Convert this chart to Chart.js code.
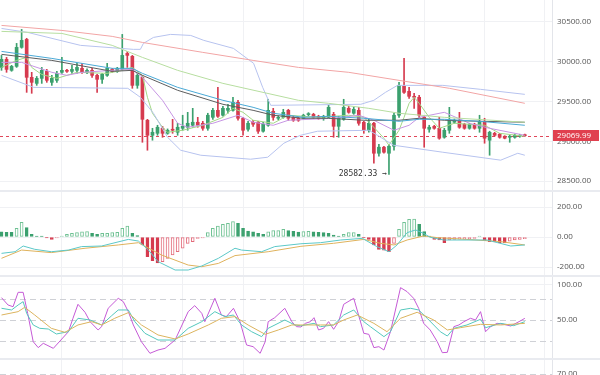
<!DOCTYPE html>
<html>
<head>
<meta charset="utf-8">
<script src="https://cdn.jsdelivr.net/npm/chart.js@4.4.0/dist/chart.umd.min.js"></script>
<style>
  html, body { margin: 0; padding: 0; background: #fff; overflow: hidden; }
  body { width: 600px; height: 375px; position: relative; }
  canvas { position: absolute; left: 0; }
  .sep { position: absolute; left: 0; width: 600px; height: 2px; background: #e9ebf0; }
</style>
</head>
<body>
<canvas id="mainChart" width="600" height="190" style="top:0"></canvas>
<div class="sep" style="top:190px"></div>
<canvas id="macdChart" width="600" height="83" style="top:192px"></canvas>
<div class="sep" style="top:275px"></div>
<canvas id="kdjChart" width="600" height="81" style="top:277px"></canvas>
<div class="sep" style="top:358px"></div>
<canvas id="rsiChart" width="600" height="50" style="top:360px"></canvas>
<script>
// candles, one per period (index 0..104)
const candleOpen = [29929, 30030, 29892, 29942, 30181, 30281, 29804, 29728, 29791, 29879,
  29741, 29766, 29867, 29885, 29879, 29892, 29917, 29867, 29892, 29829,
  29779, 29829, 29904, 29879, 29904, 30105, 30068, 29703, 29804, 29264,
  29075, 29100, 29163, 29100, 29151, 29113, 29163, 29176, 29201, 29239,
  29226, 29163, 29301, 29389, 29327, 29389, 29389, 29490, 29289, 29151,
  29239, 29239, 29126, 29201, 29377, 29289, 29301, 29389, 29301, 29289,
  29289, 29335, 29339, 29314, 29289, 29301, 29339, 29188, 29276, 29414,
  29352, 29389, 29239, 29138, 29226, 28849, 28925, 28849, 28937, 29327,
  29691, 29628, 29565, 29553, 29301, 29151, 29188, 29163, 29050, 29138,
  29239, 29264, 29214, 29163, 29214, 29163, 29251, 29013, 29100, 29088,
  29063, 29050, 29050, 29063, 29080];
const candleHigh = [30080, 30055, 29955, 30231, 30407, 30295, 29867, 29815, 29929, 29904,
  29829, 29879, 30055, 29905, 29955, 29980, 29980, 29910, 29917, 29842,
  29854, 29980, 29917, 29930, 30344, 30130, 30080, 29854, 29829, 29276,
  29163, 29201, 29188, 29155, 29276, 29226, 29327, 29364, 29414, 29301,
  29251, 29352, 29414, 29678, 29440, 29465, 29553, 29515, 29301, 29251,
  29264, 29251, 29239, 29528, 29414, 29320, 29402, 29402, 29314, 29301,
  29340, 29360, 29352, 29327, 29327, 29452, 29364, 29314, 29528, 29440,
  29427, 29427, 29251, 29276, 29239, 28962, 28937, 28962, 29352, 29741,
  30042, 29678, 29603, 29578, 29314, 29201, 29201, 29301, 29163, 29427,
  29280, 29364, 29226, 29226, 29226, 29327, 29289, 29126, 29113, 29100,
  29070, 29075, 29090, 29088, 29090];
const candleLow = [29892, 29867, 29880, 29929, 30170, 29615, 29603, 29703, 29728, 29741,
  29703, 29741, 29854, 29865, 29854, 29854, 29854, 29850, 29804, 29615,
  29728, 29816, 29866, 29866, 29892, 29929, 29666, 29666, 28987, 28887,
  29013, 29075, 29050, 29088, 29100, 29075, 29138, 29138, 29176, 29176,
  29138, 29138, 29276, 29301, 29314, 29352, 29377, 29264, 29075, 29126,
  29188, 29100, 29113, 29188, 29264, 29270, 29289, 29264, 29250, 29250,
  29276, 29320, 29289, 29276, 29264, 29289, 29050, 29050, 29264, 29352,
  29339, 29201, 29100, 29113, 28724, 28811, 28849, 28582.33, 28887, 29301,
  29603, 29540, 29414, 29301, 28925, 29113, 29151, 29025, 29038, 29100,
  29226, 29163, 29151, 29151, 29151, 29113, 28975, 28824, 29063, 29038,
  29030, 28987, 29038, 29050, 29060];
const candleClose = [30030, 29904, 29942, 30181, 30269, 29804, 29741, 29791, 29892, 29766,
  29791, 29854, 29892, 29880, 29904, 29929, 29867, 29892, 29829, 29779,
  29842, 29917, 29879, 29917, 30080, 30080, 29703, 29829, 29276, 29075,
  29113, 29176, 29100, 29138, 29138, 29176, 29188, 29226, 29239, 29201,
  29163, 29327, 29389, 29314, 29414, 29414, 29490, 29289, 29138, 29226,
  29214, 29126, 29214, 29389, 29301, 29301, 29364, 29289, 29264, 29264,
  29327, 29342, 29301, 29289, 29314, 29427, 29188, 29289, 29427, 29364,
  29402, 29226, 29138, 29226, 28849, 28925, 28862, 28937, 29327, 29703,
  29615, 29565, 29553, 29327, 29163, 29176, 29163, 29038, 29138, 29264,
  29264, 29176, 29163, 29214, 29163, 29251, 29038, 29113, 29075, 29050,
  29038, 29063, 29075, 29075, 29069.99];

// overlay lines, sampled at candle index positions
const ma120X = [0, 12, 22, 28, 40, 50, 59, 69, 79, 89, 104];
const ma120 = [30457, 30394, 30319, 30243, 30118, 30017, 29929, 29867, 29766, 29666, 29477];
const ma60X = [0, 12, 22, 28, 35, 44, 59, 65, 73, 79, 88, 104];
const ma60 = [30382, 30356, 30206, 30055, 29892, 29728, 29515, 29477, 29414, 29352, 29301, 29239];
const ma30X = [0, 10, 22, 26, 28, 35, 44, 50, 54, 60, 65, 72, 79, 83, 88, 95, 104];
const ma30 = [30130, 30042, 29917, 29917, 29854, 29678, 29515, 29427, 29352, 29301, 29314, 29289, 29251, 29276, 29276, 29251, 29201];
const bollMid = [30093, 30017, 29879, 29892, 29829, 29641, 29465, 29389, 29327, 29289, 29289, 29264, 29264, 29289, 29264, 29251, 29239];
const bollUpX = [0, 5.2, 15.7, 26.2, 27.6, 28.2, 30.2, 33.6, 37.6, 40.2, 46.1, 50.1, 51.9, 53.5, 71.4, 74, 76.3, 78.7, 87.7, 95.2, 104];
const bollUp = [30419, 30369, 30206, 30156, 30156, 30231, 30306, 30344, 30331, 30269, 30168, 29980, 29678, 29452, 29465, 29515, 29615, 29703, 29703, 29653, 29590];
const bollDnX = [0, 6.4, 25.1, 27.6, 30.2, 33, 35.6, 39.6, 49.5, 52.9, 56.1, 59.4, 62.8, 73, 74.7, 77.9, 87.7, 99.2, 102.6, 104];
const bollDn = [29829, 29678, 29666, 29553, 29352, 29050, 28887, 28824, 28774, 28799, 28975, 29075, 29126, 29138, 29075, 28950, 28862, 28762, 28849, 28824];
const ma10X = [0, 4, 10, 13, 16, 22, 26, 28, 32, 35, 37, 42, 47, 50, 54, 57, 66, 71, 74, 78, 81, 83, 88, 93, 97, 104];
const ma10 = [29992, 29992, 29867, 29829, 29867, 29892, 29904, 29804, 29515, 29226, 29176, 29226, 29327, 29239, 29201, 29264, 29289, 29327, 29264, 29138, 29201, 29301, 29364, 29226, 29163, 29075];
const ma5X = [0, 3, 5, 6, 8, 11, 15, 21, 24, 26, 28, 29, 30, 32, 33, 36, 40, 44, 46, 48,
  50, 54, 57, 63, 69, 72, 74, 76, 77, 79, 80, 81, 82, 83, 85, 87, 90, 96, 99, 104];
const ma5 = [29929, 30017, 30055, 29929, 29840, 29791, 29867, 29854, 29892, 29929, 29829, 29553, 29352, 29176, 29113, 29138, 29201, 29301, 29414, 29364,
  29264, 29226, 29327, 29301, 29327, 29301, 29176, 29038, 28950, 29138, 29301, 29477, 29553, 29477, 29301, 29163, 29226, 29201, 29100, 29063];

// MACD
const macdHist = [35, 31, 31, 58, 98, 62, 18, 2, 2, -4,
  -16, -2, 2, 18, 24, 29, 35, 36, 24, 18,
  24, 25, 29, 31, 58, 73, 24, 9, -53, -131,
  -158, -172, -165, -142, -120, -98, -75, -42, -31, -10,
  -2, 29, 58, 73, 84, 91, 102, 91, 58, 40,
  35, 24, 18, 35, 42, 43, 51, 42, 38, 33,
  36, 37, 35, 31, 29, 24, 13, 2, 18, 29,
  30, 18, -4, -16, -53, -82, -87, -98, -42, 51,
  98, 118, 120, 84, 36, 5, -16, -20, -38, -20,
  -16, -15, -14, -12, -10, 3, -24, -31, -33, -38,
  -40, -27, -20, -16, -11];
const difX = [0, 2.7, 4.3, 6.6, 9.9, 13.3, 15.9, 19.9, 25.2, 27.2, 29.2, 31.1, 34.5, 37.1, 39.8, 43.1, 46.4, 47.7, 51.7, 54.3,
  59.5, 63.4, 67.4, 71.7, 74.6, 77, 78.6, 80.6, 82.3, 83.9, 85.2, 87.9, 92.5, 96.5, 101.2, 104];
const dif = [-109, -98, -60, -82, -98, -87, -64, -60, -16, -27, -87, -164, -220, -220, -193, -142, -75, -87, -98, -64,
  -45, -38, -20, -9, -64, -98, -53, 29, 47, 24, -2, -20, -20, -20, -60, -53];
const deaX = [0, 4, 9.9, 16.6, 23.2, 27.2, 31.8, 37.1, 39.8, 43.1, 46.4, 53, 59.5, 66, 72, 75.3, 78, 80.6, 83.9, 86.6, 92.5, 99.2, 104];
const dea = [-142, -87, -104, -75, -53, -38, -120, -187, -198, -176, -124, -98, -62, -42, -16, -42, -53, -20, 7, -4, -16, -31, -53];

// KDJ
const kX = [0, 2, 3.3, 4.3, 5, 6.3, 7.6, 9.3, 10.9, 13.3, 15.2, 17.6, 19.9, 21.9, 23.2, 25.2, 26.5, 28.5, 31.1, 34.5,
  37.1, 39.8, 42.4, 44.4, 46.1, 47.7, 49.7, 51.7, 53, 56.3, 58.3, 59.5, 62.1, 63.4, 66, 68, 70, 72, 73.3, 76,
  77.3, 79.3, 81.3, 82.9, 84.6, 87.2, 88.6, 89.9, 92.5, 95.2, 96.2, 99.2, 101.8, 104];
const kVal = [66.7, 64.3, 71.4, 76.2, 59.5, 42.9, 38.1, 37.1, 30, 33.3, 52.4, 50, 42.9, 56.2, 64.3, 64.3, 47.6, 31, 21.4, 21.4,
  38.1, 47.6, 61.9, 54.8, 57.1, 42.9, 33.3, 26.2, 38.1, 50, 42.9, 41.7, 45.2, 40.5, 42.9, 57.1, 64.3, 47.6, 40.5, 26.2,
  33.3, 64.3, 66.7, 64.3, 52.4, 33.3, 27.1, 38.1, 42.9, 51, 39, 45.2, 41.9, 47.6];
const dX = [0, 3.3, 4.6, 6.6, 9.9, 12.6, 15.2, 17.9, 19.9, 22.5, 25.2, 27.8, 31.1, 34.5, 37.1, 41.1, 43.7, 46.4, 49, 52.4,
  55, 57.7, 59.5, 63.4, 66, 68, 70.7, 74, 76.6, 79.3, 82.6, 85.9, 88.6, 91.2, 95.2, 99.2, 104];
const dVal = [57.1, 61.9, 68.1, 57.1, 38.1, 32.4, 42.9, 47.6, 42.9, 52.4, 60.5, 42.9, 28.6, 22.9, 30, 42.9, 52.4, 54.8, 42.9, 29.5,
  35.7, 42.9, 42.9, 42.9, 42.9, 50, 57.1, 45.2, 33.3, 52.4, 61, 50, 35.7, 39, 43.8, 42.9, 45.2];
const jX = [0, 1.3, 2.3, 3.3, 4.3, 5.2, 6.3, 7.3, 8.3, 10.3, 13.3, 14.2, 15.2, 16.6, 17.6, 19.2, 19.9, 21.2, 23.2, 24.2,
  25.2, 26.2, 27.8, 29.5, 31.1, 32.5, 34.5, 37.1, 38.4, 39.8, 40.4, 42.4, 43.7, 44.7, 46.1, 47.4, 48.7, 50, 51.4, 52.4,
  53, 54.3, 56.3, 57.7, 58.6, 59.5, 60.4, 61.4, 62.1, 63, 64, 65, 66, 67, 68, 70, 72, 73, 74, 75,
  76, 77.3, 79.3, 80.6, 81.9, 82.9, 83.9, 85.2, 86.6, 87.6, 88.6, 89.9, 90.9, 91.9, 93.2, 94.2, 95.2, 96.2, 97.2, 98.5,
  99.8, 101.2, 103.1, 104];
const jVal = [81.9, 71.4, 69, 89.5, 89.5, 59.5, 19, 10.5, 16.7, 9.5, 33.3, 52.4, 72.4, 61, 47.6, 35.7, 40.5, 66.7, 81, 76.2,
  61.9, 42.9, 19, 2.4, 7.1, 9.5, 21.4, 61.9, 70.5, 59.5, 47.6, 81, 57.1, 54.8, 66.7, 47.6, 14.3, 11.9, 2.4, 19,
  47.6, 53.3, 66.7, 47.6, 40.5, 40, 45.2, 47.6, 53.3, 35.7, 38.1, 47.6, 36.7, 47.6, 72.4, 81, 31, 29.5, 10.5, 11.9,
  7.1, 33.3, 96.2, 90.5, 81, 66.7, 45.2, 35.7, 19, 3.3, 3.8, 40.5, 42.9, 47.6, 52.4, 50, 61.9, 33.3, 40.5, 45.2,
  43.8, 41.4, 48.6, 52.4];

// axes
const priceTicks = [30500, 30000, 29500, 29000, 28500];
const macdTicks = [200, 0, -200];
const kdjTicks = [100, 50];
const kdjLevels = [80, 50, 20];
const rsiTicks = [70];
const gridIdx = [12, 24, 36, 48, 60, 72, 84, 96, 108];

const xMin = -0.3, xMax = 109.4;
const tickFont = {family: 'Open Sans', size: 8};
const gridColor = '#f0f1f4';
const upColor = '#3ba06e', downColor = '#d63b4f';
const lastClose = candleClose[candleClose.length - 1];

function xAxis() {
  return {
    type: 'linear', min: xMin, max: xMax, offset: false,
    afterBuildTicks: s => { s.ticks = gridIdx.map(v => ({value: v})); },
    afterFit: s => { s.height = 0; s.paddingLeft = 0; s.paddingRight = 0; },
    ticks: {display: false},
    grid: {color: gridColor, drawTicks: false, offset: false},
    border: {display: false}
  };
}

function yAxis(min, max, tickVals, hideGrid) {
  return {
    position: 'right', min: min, max: max,
    afterBuildTicks: s => { s.ticks = tickVals.map(v => ({value: v})); },
    afterFit: s => { s.width = 48; s.paddingTop = 0; s.paddingBottom = 0; },
    ticks: {font: tickFont, color: '#555', padding: 5, callback: v => v.toFixed(2)},
    grid: {
      drawTicks: false,
      color: c => (hideGrid && c.tick && hideGrid.includes(c.tick.value)) ? 'rgba(0,0,0,0)' : gridColor
    },
    border: {color: '#e3e5ea'}
  };
}

function line(label, xs, ys, color) {
  return {
    type: 'line', label: label,
    data: xs.map((x, k) => ({x: x, y: ys[k]})),
    borderColor: color, borderWidth: 1, pointRadius: 0, tension: 0, order: 0
  };
}

const baseOpts = {
  responsive: false,
  animation: false,
  layout: {padding: 0},
  plugins: {legend: {display: false}, tooltip: {enabled: false}}
};

function dashLines(levels) {
  return {
    id: 'dashLines',
    beforeDatasetsDraw(chart) {
      const {ctx, chartArea, scales: {y}} = chart;
      ctx.save();
      ctx.strokeStyle = '#cfd1d6';
      ctx.lineWidth = 1;
      ctx.setLineDash([6, 4]);
      levels.forEach(v => {
        const py = Math.round(y.getPixelForValue(v)) + 0.5;
        ctx.beginPath();
        ctx.moveTo(chartArea.left, py);
        ctx.lineTo(chartArea.right, py);
        ctx.stroke();
      });
      ctx.restore();
    }
  };
}

// price line, lowest-low note and last price tag
const priceMarks = {
  id: 'priceMarks',
  beforeDatasetsDraw(chart) {
    const {ctx, chartArea, scales: {y}} = chart;
    const py = Math.round(y.getPixelForValue(lastClose)) + 0.5;
    ctx.save();
    ctx.strokeStyle = '#e0475a';
    ctx.lineWidth = 1;
    ctx.setLineDash([3, 3]);
    ctx.beginPath();
    ctx.moveTo(chartArea.left, py);
    ctx.lineTo(chartArea.right, py);
    ctx.stroke();
    ctx.restore();
  },
  afterDatasetsDraw(chart) {
    const {ctx, scales: {x, y}} = chart;
    let m = 0;
    candleLow.forEach((v, i) => { if (v < candleLow[m]) m = i; });
    ctx.save();
    ctx.font = '8px "DejaVu Sans Mono"';
    ctx.fillStyle = '#333';
    ctx.textAlign = 'right';
    ctx.textBaseline = 'middle';
    ctx.fillText(candleLow[m].toFixed(2) + ' \u2192', x.getPixelForValue(m) - 2, y.getPixelForValue(candleLow[m]) - 1);
    ctx.restore();
  },
  afterDraw(chart) {
    const {ctx, chartArea, scales: {y}} = chart;
    const py = y.getPixelForValue(lastClose);
    ctx.save();
    ctx.fillStyle = '#e0404f';
    ctx.fillRect(chartArea.right + 1, Math.round(py - 5.5), 46, 11);
    ctx.fillStyle = '#fff';
    ctx.font = '8px "Open Sans"';
    ctx.textAlign = 'left';
    ctx.textBaseline = 'middle';
    ctx.fillText(lastClose.toFixed(2), chartArea.right + 5, py);
    ctx.restore();
  }
};

const idx = candleClose.map((_, i) => i);
const candleColor = idx.map(i => candleClose[i] >= candleOpen[i] ? upColor : downColor);

new Chart(document.getElementById('mainChart'), {
  type: 'bar',
  data: {
    datasets: [
      line('MA120', ma120X, ma120, '#f2a5a5'),
      line('MA60', ma60X, ma60, '#b7dea0'),
      line('BOLL UP', bollUpX, bollUp, '#b7c3ef'),
      line('BOLL DN', bollDnX, bollDn, '#b7c3ef'),
      line('MA30', ma30X, ma30, '#4aa9d6'),
      line('BOLL MID', ma30X, bollMid, '#5d5d5d'),
      line('MA10', ma10X, ma10, '#c796e4'),
      line('MA5', ma5X, ma5, '#a3d886'),
      {
        type: 'bar', label: 'wick',
        data: idx.map(i => ({x: i, y: [candleLow[i], candleHigh[i]]})),
        backgroundColor: candleColor, barThickness: 1, grouped: false, order: 2
      },
      {
        type: 'bar', label: 'body',
        data: idx.map(i => ({x: i, y: [candleOpen[i], candleClose[i]]})),
        backgroundColor: candleColor, barThickness: 3, minBarLength: 1, grouped: false, order: 1
      }
    ]
  },
  options: Object.assign({}, baseOpts, {
    scales: {x: xAxis(), y: yAxis(28386.8, 30776.7, priceTicks)}
  }),
  plugins: [priceMarks]
});

// MACD histogram: hollow while growing, filled while shrinking (red the other way)
const histBg = macdHist.map((v, i) => {
  const prev = i > 0 ? macdHist[i - 1] : v;
  if (v >= 0) return v > prev ? '#fff' : upColor;
  return v < prev ? downColor : '#fff';
});
const histBorder = macdHist.map((v, i) => {
  const prev = i > 0 ? macdHist[i - 1] : v;
  if (v >= 0) return v > prev ? '#6fc193' : upColor;
  return v < prev ? downColor : '#e36b7a';
});

new Chart(document.getElementById('macdChart'), {
  type: 'bar',
  data: {
    datasets: [
      line('DIF', difX, dif, '#5cc8c8'),
      line('DEA', deaX, dea, '#dfb25c'),
      {
        type: 'bar', label: 'MACD',
        data: idx.map(i => ({x: i, y: macdHist[i]})),
        backgroundColor: histBg, borderColor: histBorder, borderWidth: 1, borderSkipped: false,
        barThickness: 3, minBarLength: 1, grouped: false, order: 1
      }
    ]
  },
  options: Object.assign({}, baseOpts, {
    scales: {x: xAxis(), y: yAxis(-253.3, 300, macdTicks)}
  })
});

new Chart(document.getElementById('kdjChart'), {
  type: 'line',
  data: {
    datasets: [
      line('D', dX, dVal, '#dcb45e'),
      line('K', kX, kVal, '#55c8bd'),
      line('J', jX, jVal, '#c55ad6')
    ]
  },
  options: Object.assign({}, baseOpts, {
    scales: {x: xAxis(), y: yAxis(-4.3, 111.4, kdjTicks, [50])}
  }),
  plugins: [dashLines(kdjLevels)]
});

new Chart(document.getElementById('rsiChart'), {
  type: 'line',
  data: {datasets: []},
  options: Object.assign({}, baseOpts, {
    scales: {x: xAxis(), y: yAxis(-7, 100, rsiTicks, rsiTicks)}
  }),
  plugins: [dashLines(rsiTicks)]
});
</script>
</body>
</html>
